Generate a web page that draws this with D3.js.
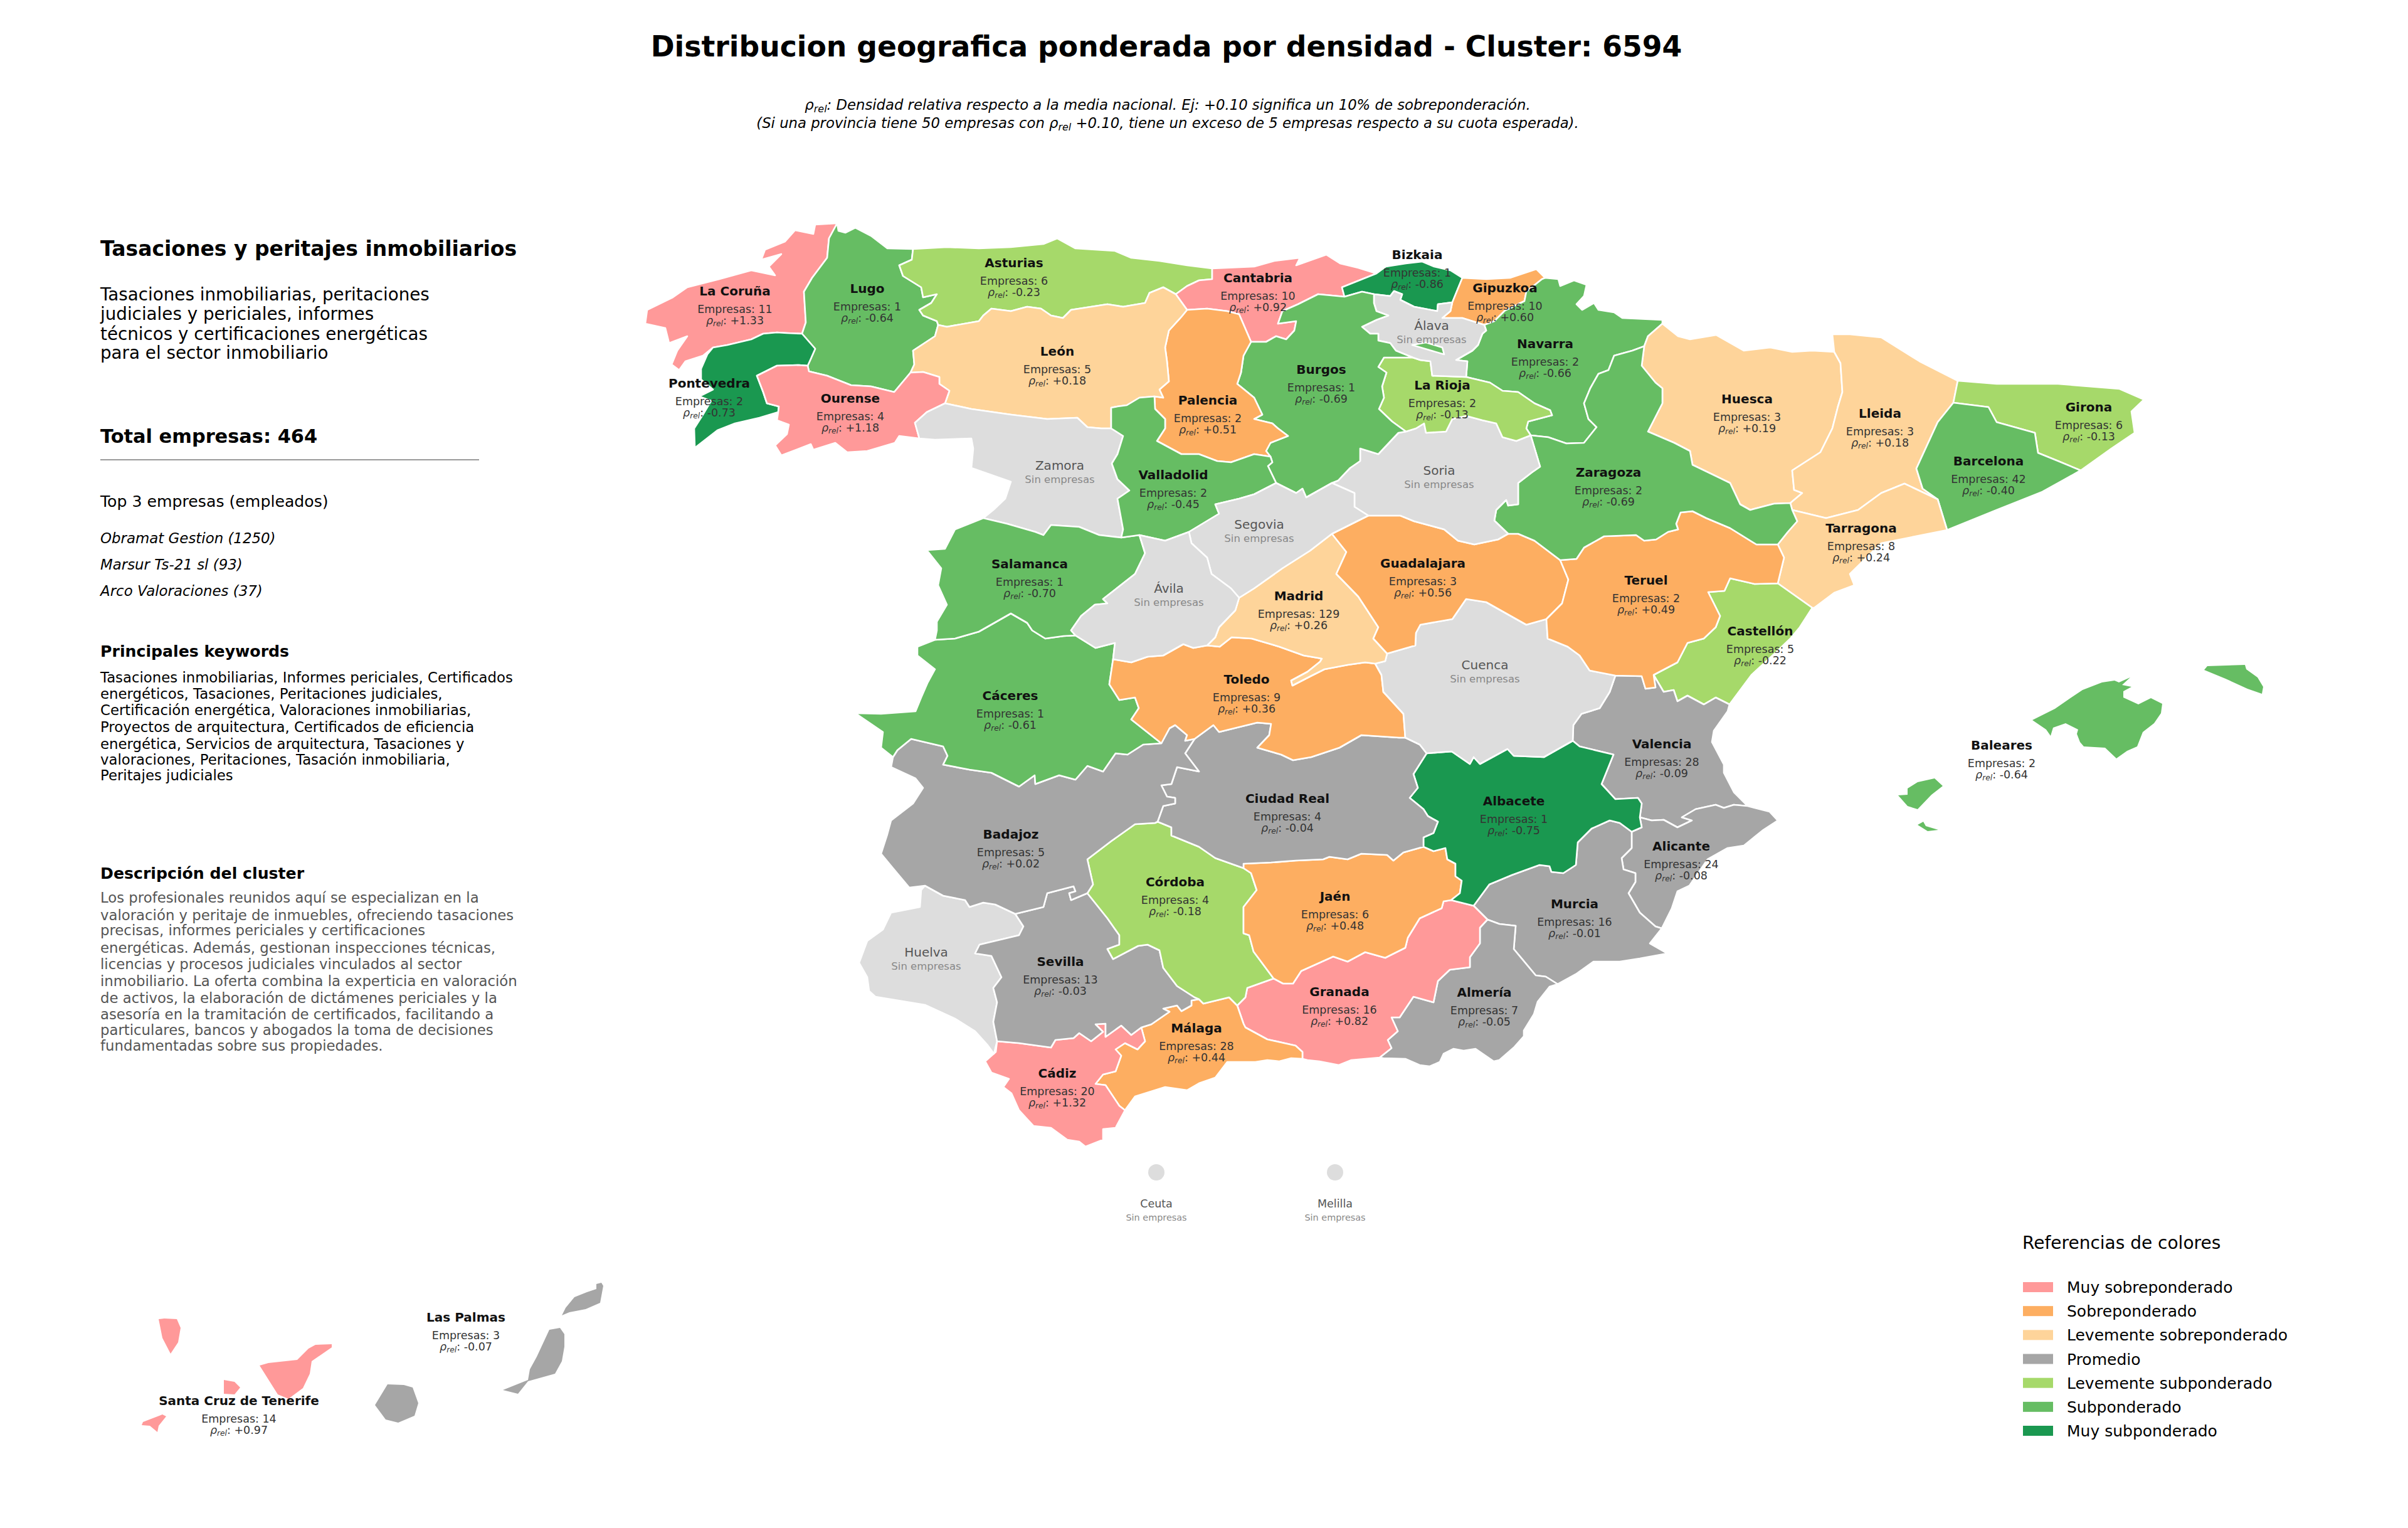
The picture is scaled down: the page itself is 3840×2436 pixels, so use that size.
<!DOCTYPE html>
<meta charset="utf-8">
<body style="margin:0;background:#fff">
<div id="chart"></div>
<script src="https://d3js.org/d3.v7.min.js"></script>
<script>

// values per province, same order in all three arrays (0 / null = sin empresas)
var provinces = ["La Coruña","Lugo","Asturias","Cantabria","Bizkaia","Gipuzkoa","Navarra","Huesca","Lleida","Girona","Barcelona","Tarragona","Castellón","Valencia","Alicante","Murcia","Almería","Granada","Málaga","Cádiz","Huelva","Sevilla","Córdoba","Jaén","Albacete","Ciudad Real","Badajoz","Cáceres","Toledo","Cuenca","Madrid","Guadalajara","Teruel","Zaragoza","Soria","La Rioja","Álava","Burgos","Palencia","León","Pontevedra","Ourense","Zamora","Salamanca","Valladolid","Segovia","Ávila","Baleares","Las Palmas","Santa Cruz de Tenerife","Ceuta","Melilla"];
var empresas = [11,1,6,10,1,10,2,3,3,6,42,8,5,28,24,16,7,16,28,20,0,13,4,6,1,4,5,1,9,0,129,3,2,2,0,2,0,1,2,5,2,4,0,1,2,0,0,2,3,14,0,0];
var rhoRel = [1.33,-0.64,-0.23,0.92,-0.86,0.60,-0.66,0.19,0.18,-0.13,-0.40,0.24,-0.22,-0.09,-0.08,-0.01,-0.05,0.82,0.44,1.32,null,-0.03,-0.18,0.48,-0.75,-0.04,0.02,-0.61,0.36,null,0.26,0.56,0.49,-0.69,null,-0.13,null,-0.69,0.51,0.18,-0.73,1.18,null,-0.70,-0.45,null,null,-0.64,-0.07,0.97,null,null];

var legendLabels = ["Muy sobreponderado","Sobreponderado","Levemente sobreponderado","Promedio","Levemente subponderado","Subponderado","Muy subponderado"];
var legendColors = ["#ff9999","#fdae61","#fed49a","#a6a6a6","#a6d96a","#66bd63","#1a9850"];
var rhoThresholds = [0.7,0.3,0.1,-0.1,-0.3,-0.71];

var topEmpresas = ["Obramat Gestion (1250)","Marsur Ts-21 sl (93)","Arco Valoraciones (37)"];
var descLines = ["Tasaciones inmobiliarias, peritaciones","judiciales y periciales, informes","técnicos y certificaciones energéticas","para el sector inmobiliario"];
var keywordLines = ["Tasaciones inmobiliarias, Informes periciales, Certificados","energéticos, Tasaciones, Peritaciones judiciales,","Certificación energética, Valoraciones inmobiliarias,","Proyectos de arquitectura, Certificados de eficiencia","energética, Servicios de arquitectura, Tasaciones y","valoraciones, Peritaciones, Tasación inmobiliaria,","Peritajes judiciales"];
var clusterLines = ["Los profesionales reunidos aquí se especializan en la","valoración y peritaje de inmuebles, ofreciendo tasaciones","precisas, informes periciales y certificaciones","energéticas. Además, gestionan inspecciones técnicas,","licencias y procesos judiciales vinculados al sector","inmobiliario. La oferta combina la experticia en valoración","de activos, la elaboración de dictámenes periciales y la","asesoría en la tramitación de certificados, facilitando a","particulares, bancos y abogados la toma de decisiones","fundamentadas sobre sus propiedades."];

// province borders, in map grid units. x_ = coast or outer border
var arcs = {
x_co:"1335,356 1300,358 1297,373 1268,367 1252,385 1220,398 1214,414 1246,405 1226,425 1236,439 1198,431 1147,445 1096,458 1073,474 1032,494 1029,516 1061,523 1067,547 1096,536 1080,559 1071,581 1083,590 1093,576 1121,567 1137,554",
co_po:"1137,554 1160,550 1198,541 1217,532 1239,530 1255,531 1279,532",
co_lu:"1279,532 1285,514 1282,465 1295,443 1319,411 1322,380 1335,356",
x_lu:"1335,356 1337,368 1348,371 1364,363 1389,376 1415,396 1456,397",
lu_as:"1456,397 1454,414 1434,423 1440,440 1469,458 1472,474 1494,469 1485,483 1466,494 1472,503 1494,512 1496,518",
lu_le:"1496,518 1491,536 1456,559 1458,581 1452,594",
lu_or:"1452,594 1426,625 1389,616 1357,614 1319,599 1290,592 1288,583",
lu_po:"1279,532 1300,556 1293,572 1288,583",
po_or:"1288,583 1274,582 1239,583 1207,599 1217,625 1223,643 1242,648 1241,657",
x_po:"1241,657 1211,666 1172,675 1144,686 1108,714 1107,683 1121,661 1134,639 1115,632 1137,621 1118,605 1118,588 1128,565 1137,554",
or_le:"1452,594 1472,593 1498,601 1498,612 1514,623 1507,643",
or_za:"1507,643 1478,657 1459,674 1466,699",
x_or:"1466,699 1434,695 1427,706 1383,719 1351,721 1332,706 1297,717 1293,708 1246,726 1236,710 1255,692 1258,677 1239,670 1241,657",
x_as:"1456,397 1510,394 1561,396 1612,394 1664,389 1686,380 1715,396 1778,400 1804,411 1849,416 1893,423 1933,428",
as_ca:"1933,428 1933,445 1912,447 1893,456 1875,469",
as_le:"1496,518 1510,521 1561,512 1568,503 1581,492 1612,496 1638,489 1660,492 1676,503 1695,507 1708,494 1766,485 1791,489 1826,483 1833,467 1855,458 1875,469",
le_ca:"1875,469 1893,494",
le_pa:"1893,494 1884,505 1864,527 1858,554 1861,576 1864,608 1849,621 1855,634 1841,632",
le_vl:"1841,632 1817,634 1797,646 1782,648 1772,650 1772,683",
le_za:"1507,643 1549,652 1612,661 1670,668 1718,666 1734,681 1756,683 1772,683",
x_za:"1466,699 1491,701 1549,699 1552,715 1549,746 1612,768 1603,795 1584,813 1568,826",
za_sa:"1568,826 1606,835 1651,848 1664,853 1676,837 1721,840 1753,853 1788,857",
za_vl:"1772,683 1791,695 1782,724 1773,739 1782,764 1801,782 1782,795 1791,844 1788,857",
x_sa:"1568,826 1523,844 1507,875 1478,877 1501,906 1496,933 1510,964 1494,991 1494,1005 1491,1020",
sa_cc:"1491,1020 1523,1018 1561,1007 1612,978 1638,993 1646,1005 1667,1018 1696,1014 1715,1013",
sa_av:"1715,1013 1708,1005 1724,982 1746,964 1766,962 1759,955 1810,915 1826,882 1817,853",
sa_vl:"1788,857 1817,853",
vl_av:"1817,853 1858,862 1896,848",
vl_sg:"1896,848 1944,819 1938,804 1976,795 2000,788 2035,770",
vl_bu:"2035,770 2022,743 2029,737 2026,728",
vl_pa:"1841,632 1842,652 1858,668 1858,683 1845,703 1884,724 1912,724 1941,735 1963,737 2000,724 2026,728",
ca_pa:"1893,494 1925,492 1957,496 1976,501 1995,545",
pa_bu:"1995,545 1983,567 1979,594 1973,612 1989,625 2000,634 2013,661 2000,668 2029,675 2038,683 2054,695 2026,706 2019,719 2026,728",
x_ca:"1933,428 2000,425 2032,416 2073,411 2067,423 2115,406 2137,420 2166,427 2195,436",
ca_bi:"2195,436 2140,458 2144,473",
ca_bu:"2144,473 2102,469 2070,485 2045,496 2038,516 2067,512 2064,527 2051,541 2035,536 2019,545 1995,545",
x_bi:"2195,436 2210,425 2242,420 2268,417 2287,425 2313,431 2332,443",
bi_gi:"2332,443 2325,460 2316,482",
bi_aa:"2316,482 2293,485 2292,496 2255,489 2233,478 2236,469 2223,464 2217,472 2191,469",
bi_bu:"2191,469 2172,465 2144,473",
aa_bu:"2191,469 2191,483 2195,496 2214,503 2195,510 2172,521 2185,532 2198,532 2198,543 2217,547 2226,559 2253,570",
aa_ri:"2253,570 2265,574 2281,576 2284,599 2338,601",
aa_na:"2338,601 2340,576 2322,574 2348,559 2357,550 2364,532 2370,527 2367,518",
aa_gi:"2367,518 2332,507 2300,507 2313,496 2316,482",
bu_ri:"2253,570 2207,570 2198,585 2211,594 2204,616 2207,634 2199,652 2220,672 2242,688",
bu_so:"2242,688 2230,690 2198,724 2169,715 2169,735 2153,746 2134,766 2124,770",
bu_sg:"2124,770 2083,793 2077,779 2067,786 2035,770",
ri_na:"2338,601 2376,610 2396,623 2421,625 2447,643 2472,654 2475,662 2437,672 2434,683 2441,694",
ri_so:"2441,694 2418,703 2396,697 2386,675 2364,670 2338,663 2316,668 2306,688 2274,690 2271,675 2258,683 2242,688",
x_gi:"2332,443 2370,445 2408,443 2450,429 2464,443",
gi_na:"2464,443 2459,445 2434,465 2431,480 2400,495 2383,512 2367,518",
x_na:"2464,443 2485,445 2488,456 2510,447 2530,454 2526,472 2514,485 2523,494 2542,483 2549,494 2574,498 2587,507 2651,510 2651,516",
na_hu:"2651,516 2628,536 2622,552",
na_zg:"2622,552 2603,559 2574,567 2565,590 2549,596 2536,619 2526,643 2533,668 2546,681 2526,706 2498,707 2469,697 2441,694",
so_zg:"2441,694 2450,724 2456,744 2443,753 2421,770 2421,804 2405,806 2402,797 2386,813 2383,830 2405,851",
so_gu:"2405,851 2389,860 2351,868 2325,862 2303,844 2255,831 2233,822 2182,822",
so_sg:"2182,822 2160,808 2160,786 2124,770",
sg_gu:"2182,822 2124,851",
sg_md:"2124,851 2089,878 2045,906 2000,938 1976,953",
sg_av:"1896,848 1900,866 1925,889 1932,915 1963,938 1976,953",
av_md:"1976,953 1970,973 1944,1000 1938,1016 1925,1029",
av_to:"1925,1029 1903,1033 1887,1027 1855,1045 1830,1047 1804,1056 1775,1051",
av_cc:"1775,1051 1778,1025 1747,1033 1715,1013",
md_to:"1925,1029 1945,1031 1964,1016 1996,1018 2040,1031 2079,1045 2108,1050 2105,1055 2085,1071 2059,1085 2061,1093 2090,1078 2112,1067 2149,1060 2177,1056 2193,1058",
md_cu:"2193,1058 2209,1054 2212,1042",
md_gu:"2124,851 2147,880 2131,915 2166,951 2198,1000 2190,1018 2212,1042",
gu_zg:"2405,851 2421,851 2447,862 2488,893",
gu_te:"2488,893 2501,924 2491,962 2466,987",
gu_cu:"2212,1042 2257,1029 2258,1009 2265,996 2316,987 2338,955 2370,960 2434,996 2466,987",
zg_hu:"2622,552 2618,583 2640,610 2651,619 2651,643 2628,688 2670,706 2695,719 2699,741 2759,770 2775,804 2791,813 2829,803 2855,802",
zg_ll:"2855,802 2858,813",
zg_ta:"2858,813 2866,831 2851,848 2835,868",
zg_te:"2835,868 2801,868 2759,842 2721,826 2699,815 2680,817 2673,835 2676,844 2660,848 2641,860 2622,862 2609,853 2558,855 2526,873 2514,891 2488,893",
x_hu:"2651,516 2676,536 2695,541 2737,534 2781,559 2823,554 2858,561 2890,559 2925,561",
hu_ll:"2925,561 2935,579 2938,625 2931,648 2922,683 2903,721 2858,750 2861,781 2874,786 2855,802",
x_ll:"2925,561 2922,533 2950,533 3000,538 3061,576 3122,607",
ll_ge:"3122,607 3115,642",
ll_bc:"3115,642 3090,673 3073,710 3056,747 3066,779 3090,796",
ll_ta:"3090,796 3037,771 3000,786 2963,813 2912,826 2883,819 2858,813",
x_ge:"3122,607 3184,612 3282,612 3380,620 3419,637 3399,656 3404,690 3367,715 3318,750",
ge_bc:"3115,642 3171,649 3184,673 3245,690 3250,722 3282,735 3318,750",
x_bc:"3318,750 3257,784 3184,813 3105,845",
bc_ta:"3090,796 3105,845",
x_ta:"3105,845 3000,866 2950,915 2957,933 2925,945 2893,969 2890,969",
ta_cs:"2835,930 2890,969",
ta_te:"2835,868 2845,889 2835,930",
x_cs:"2890,969 2870,1000 2855,1018 2832,1040 2793,1076 2758,1123",
cs_va:"2758,1123 2736,1112 2717,1123 2691,1109 2675,1118 2669,1100 2653,1103 2637,1076",
cs_te:"2637,1076 2675,1056 2691,1025 2717,1018 2736,1000 2743,982 2724,944 2750,942 2759,922 2798,931 2835,930",
te_va:"2637,1076 2640,1096 2624,1098 2618,1078 2576,1077",
te_cu:"2466,987 2468,1018 2500,1031 2519,1045 2535,1069 2576,1077",
x_va:"2758,1123 2755,1134 2733,1165 2730,1183 2749,1219 2749,1232 2765,1263 2787,1285",
va_ac:"2615,1303 2634,1308 2653,1307 2675,1319 2698,1308 2682,1303 2704,1290 2736,1283 2749,1288 2765,1283 2787,1285",
va_ab:"2508,1181 2519,1190 2573,1203 2554,1250 2576,1274 2612,1272 2618,1281 2615,1303",
va_cu:"2576,1077 2567,1103 2551,1129 2522,1138 2509,1156 2508,1181",
x_ac:"2787,1285 2822,1294 2835,1308 2812,1323 2781,1348 2755,1352 2723,1370 2694,1412 2675,1421 2666,1448 2650,1480",
ac_mu:"2602,1326 2602,1352 2586,1368 2589,1386 2608,1392 2608,1406 2597,1424 2615,1455 2640,1477 2650,1480",
ac_ab:"2615,1303 2618,1319 2602,1326",
x_mu:"2650,1480 2631,1504 2659,1520 2615,1528 2583,1533 2541,1533 2513,1553 2484,1569",
mu_am:"2372,1466 2391,1473 2417,1476 2414,1513 2449,1555 2465,1557 2484,1569",
mu_gd:"2350,1444 2372,1466",
mu_ab:"2602,1326 2583,1312 2567,1308 2538,1321 2516,1343 2513,1379 2493,1392 2474,1390 2471,1381 2455,1379 2411,1395 2375,1410 2350,1444",
ab_cu:"2508,1181 2462,1207 2414,1205 2404,1194 2360,1218 2350,1207 2344,1218 2315,1198 2275,1201",
ab_cr:"2275,1201 2254,1234 2261,1256 2248,1272 2270,1290 2277,1301 2293,1310 2286,1328 2270,1335 2270,1350",
ab_ja:"2270,1350 2286,1357 2305,1352 2308,1370 2321,1377 2321,1397 2331,1404 2328,1424 2314,1435",
ab_gd:"2314,1435 2350,1444",
to_cu:"2193,1058 2203,1076 2206,1103 2238,1138 2241,1176",
cu_cr:"2241,1176 2264,1187 2275,1201",
to_bj:"1852,1185 1865,1161 1874,1156 1893,1172 1890,1181 1905,1178",
to_cr:"1905,1178 1935,1156 1944,1167 2005,1152 2027,1154 2024,1172 2005,1192 2043,1203 2062,1212 2091,1207 2136,1192 2171,1172 2231,1176 2241,1176",
cc_to:"1852,1185 1804,1147 1816,1129 1810,1112 1785,1116 1769,1091 1775,1051",
x_cc:"1491,1020 1463,1031 1463,1045 1491,1067 1479,1089 1469,1112 1460,1134 1405,1138 1364,1137 1408,1167 1405,1192 1424,1207",
cc_bj:"1424,1207 1431,1196 1453,1178 1504,1190 1511,1205 1504,1219 1546,1227 1581,1232 1625,1254 1650,1236 1651,1250 1689,1236 1715,1243 1734,1221 1759,1230 1779,1201 1798,1203 1823,1187 1852,1185",
bj_cr:"1905,1178 1890,1201 1912,1230 1877,1223 1868,1250 1852,1252 1861,1270 1874,1272 1874,1281 1855,1285 1846,1310",
bj_cb:"1734,1424 1743,1410 1734,1370 1772,1341 1810,1314 1842,1312 1846,1310",
bj_se:"1619,1457 1664,1446 1670,1424 1712,1413 1715,1421 1705,1424 1708,1435 1734,1424",
bj_hv:"1475,1412 1504,1428 1539,1435 1546,1446 1568,1439 1587,1442 1619,1457",
x_bj:"1424,1207 1421,1223 1460,1241 1472,1256 1456,1281 1421,1308 1415,1330 1405,1361 1424,1384 1450,1415 1475,1412",
cr_cb:"1846,1310 1868,1319 1868,1332 1912,1350 1938,1368 1983,1384",
cr_ja:"1983,1384 1983,1377 2027,1375 2066,1372 2110,1370 2120,1366 2149,1370 2171,1361 2212,1363 2222,1372 2238,1359 2270,1350",
cb_ja:"1983,1384 1995,1392 2004,1419 1983,1446 1983,1488 1992,1491 1999,1517 2031,1560",
cb_gd:"2031,1560 1989,1575 1986,1590 1973,1603",
cb_mg:"1973,1603 1960,1590 1919,1600 1912,1593",
cb_se:"1734,1424 1766,1464 1785,1491 1785,1506 1766,1513 1775,1529 1815,1508 1830,1506 1849,1515 1855,1543 1877,1572 1905,1590 1912,1593",
ja_gd:"2031,1560 2046,1568 2062,1568 2075,1548 2126,1525 2149,1533 2177,1518 2209,1527 2241,1511 2245,1495 2264,1464 2299,1448 2302,1437 2314,1435",
gd_am:"2372,1466 2360,1479 2360,1504 2344,1526 2344,1542 2312,1546 2293,1564 2286,1598 2254,1589 2232,1622 2219,1622 2229,1644 2213,1658 2219,1671 2200,1686",
x_gd:"2200,1686 2155,1690 2135,1698 2104,1692 2085,1690 2077,1688",
gd_mg:"1973,1603 1983,1632 1986,1638 2021,1657 2066,1667 2077,1677 2077,1688",
x_am:"2484,1569 2471,1573 2452,1597 2446,1617 2430,1643 2430,1652 2414,1670 2391,1690 2382,1692 2353,1672 2334,1675 2318,1672 2302,1680 2296,1693 2280,1700 2264,1698 2241,1688 2206,1687 2200,1686",
x_mg:"2077,1688 2059,1687 2040,1692 2021,1690 2002,1693 1957,1693 1938,1718 1912,1727 1893,1738 1858,1733 1810,1748 1794,1770",
mg_cd:"1794,1770 1785,1763 1763,1730 1747,1728 1759,1713 1779,1708 1788,1683 1779,1673 1794,1663 1814,1673 1826,1660 1820,1638",
mg_se:"1820,1638 1836,1633 1865,1613 1855,1608 1877,1603 1884,1612 1900,1603 1900,1595 1912,1593",
x_cd:"1590,1660 1588,1677 1571,1692 1581,1710 1609,1720 1600,1733 1613,1743 1625,1770 1648,1795 1676,1798 1702,1817 1721,1820 1731,1828 1759,1817 1759,1800 1779,1798 1794,1770",
cd_se:"1590,1660 1625,1663 1676,1670 1683,1658 1712,1655 1721,1647 1740,1660 1759,1645 1747,1633 1763,1632 1763,1653 1788,1635 1804,1650 1820,1638",
se_hv:"1619,1457 1632,1477 1625,1491 1562,1506 1555,1520 1581,1524 1597,1558 1584,1575 1590,1598 1584,1629 1590,1660",
x_hv:"1475,1412 1469,1419 1467,1446 1421,1455 1408,1482 1383,1500 1370,1535 1383,1558 1386,1580 1396,1589 1475,1602 1523,1624 1555,1644 1574,1665 1585,1680 1590,1660"
};

// which arcs close each province ("-" = walk the arc backwards)
var provinceRings = {
"La Coruña":"x_co co_po co_lu",
"Lugo":"x_lu lu_as lu_le lu_or -lu_po co_lu",
"Pontevedra":"co_po lu_po po_or x_po",
"Ourense":"-lu_or or_le or_za x_or -po_or",
"Asturias":"x_as as_ca -as_le -lu_as",
"León":"as_le le_ca le_pa le_vl -le_za -or_le -lu_le",
"Zamora":"le_za za_vl -za_sa -x_za -or_za",
"Salamanca":"za_sa sa_vl -sa_av -sa_cc -x_sa",
"Valladolid":"-le_vl vl_pa -vl_bu -vl_sg -vl_av -sa_vl -za_vl",
"Palencia":"ca_pa pa_bu -vl_pa -le_pa",
"Cantabria":"x_ca ca_bi ca_bu -ca_pa -le_ca -as_ca",
"Bizkaia":"x_bi bi_gi bi_aa bi_bu -ca_bi",
"Álava":"aa_bu aa_ri aa_na aa_gi bi_aa",
"Burgos":"-bi_bu aa_bu bu_ri bu_so bu_sg vl_bu -pa_bu -ca_bu",
"La Rioja":"aa_ri ri_na ri_so -bu_ri",
"Gipuzkoa":"x_gi gi_na aa_gi -bi_gi",
"Navarra":"x_na na_hu na_zg -ri_na aa_na -gi_na",
"Soria":"so_zg so_gu so_sg -bu_so -ri_so",
"Segovia":"-bu_sg -so_sg sg_gu sg_md -sg_av vl_sg",
"Ávila":"vl_av sg_av av_md av_to av_cc sa_av",
"Madrid":"md_gu -md_cu -md_to -av_md -sg_md",
"Guadalajara":"-so_gu gu_zg gu_te -gu_cu -md_gu -sg_gu",
"Zaragoza":"zg_hu zg_ll zg_ta zg_te -gu_zg -so_zg -na_zg",
"Huesca":"x_hu hu_ll -zg_hu -na_hu",
"Lleida":"x_ll ll_ge ll_bc ll_ta -zg_ll -hu_ll",
"Girona":"x_ge -ge_bc -ll_ge",
"Barcelona":"ge_bc x_bc -bc_ta -ll_bc",
"Tarragona":"-ll_ta bc_ta x_ta -ta_cs -ta_te -zg_ta",
"Castellón":"x_cs cs_va cs_te ta_cs",
"Teruel":"-zg_te ta_te -cs_te te_va -te_cu -gu_te",
"Valencia":"-cs_va x_va -va_ac -va_ab -va_cu -te_va",
"Alicante":"va_ac x_ac -ac_mu -ac_ab",
"Murcia":"ac_mu x_mu -mu_am -mu_gd -mu_ab",
"Albacete":"-ab_cu va_ab ac_ab mu_ab -ab_gd -ab_ja -ab_cr",
"Cuenca":"md_cu gu_cu te_cu va_cu ab_cu -cu_cr -to_cu",
"Toledo":"-av_to md_to to_cu -to_cr -to_bj cc_to",
"Cáceres":"sa_cc -av_cc -cc_to -cc_bj -x_cc",
"Badajoz":"cc_bj to_bj bj_cr -bj_cb -bj_se -bj_hv -x_bj",
"Ciudad Real":"to_cr cu_cr ab_cr -cr_ja -cr_cb -bj_cr",
"Córdoba":"bj_cb cr_cb cb_ja cb_gd cb_mg -cb_se",
"Jaén":"cr_ja ab_ja -ja_gd -cb_ja",
"Granada":"ja_gd ab_gd mu_gd gd_am x_gd -gd_mg -cb_gd",
"Almería":"mu_am x_am -gd_am",
"Málaga":"-cb_mg gd_mg x_mg mg_cd mg_se",
"Cádiz":"cd_se -mg_cd -x_cd",
"Sevilla":"bj_se cb_se -mg_se -cd_se -se_hv",
"Huelva":"bj_hv se_hv -x_hv"
};

// enclaves inside another province
var enclaves = {
"Burgos":["2252,550 2274,546 2300,554 2303,565 2274,563"],
"Valencia":["2522,1049 2548,1033 2557,1049 2589,1058 2576,1069 2535,1069"],
"Huesca":["2622,643 2638,618 2642,622 2632,645"],
"Navarra":["2581,607 2590,599 2595,607","2568,612 2574,605 2576,612"]
};

// islands, drawn without the white border
var islands = {
"Baleares":[
"3241,1148 3277,1130 3303,1112 3321,1100 3352,1088 3372,1085 3379,1088 3397,1080 3384,1092 3399,1095 3386,1102 3386,1112 3410,1123 3430,1113 3448,1122 3446,1137 3435,1153 3417,1167 3408,1190 3392,1197 3375,1209 3357,1192 3323,1190 3317,1183 3312,1170 3314,1163 3294,1153 3274,1160 3270,1173 3263,1163 3248,1158",
"3515,1068 3520,1062 3580,1060 3582,1067 3600,1080 3609,1095 3607,1106 3584,1098 3549,1082 3521,1084",
"3027,1268 3042,1267 3042,1257 3058,1247 3085,1241 3098,1253 3080,1267 3058,1290 3042,1285 3027,1285",
"3058,1315 3067,1310 3071,1317 3091,1323 3074,1325 3058,1327"],
"Las Palmas":[
"618,2207 644,2208 658,2212 667,2237 661,2257 635,2268 615,2263 598,2240 604,2223",
"876,2120 893,2117 900,2127 900,2147 896,2170 885,2190 842,2202 826,2222 802,2216 842,2200 845,2183 856,2163 871,2143",
"896,2097 902,2085 916,2068 936,2060 951,2055 951,2047 959,2045 962,2050 957,2077 934,2087 908,2092 908,2098",
"948,2042 952,2036 954,2039"],
"Santa Cruz de Tenerife":[
"253,2103 262,2102 282,2103 288,2117 284,2140 272,2158 259,2133 249,2113",
"414,2177 428,2173 474,2168 492,2150 503,2144 529,2143 529,2148 497,2170 494,2190 483,2213 460,2230 443,2223 428,2197",
"357,2200 374,2203 383,2212 374,2223 357,2222 349,2210",
"259,2255 265,2258 253,2273 251,2283 239,2273 226,2272 228,2267 245,2263"]
};

// where the name of each province sits on the map grid
var labelAnchors = {"La Coruña":[1172,464],"Lugo":[1383,460],"Asturias":[1617,419],"Cantabria":[2006,443],"Bizkaia":[2260,406],"Gipuzkoa":[2400,459],"Navarra":[2464,548],"Huesca":[2786,636],"Lleida":[2998,659],"Girona":[3331,649],"Barcelona":[3171,735],"Tarragona":[2968,842],"Castellón":[2807,1006],"Valencia":[2650,1186],"Alicante":[2681,1349],"Murcia":[2511,1441],"Almería":[2367,1582],"Granada":[2136,1581],"Málaga":[1908,1639],"Cádiz":[1686,1711],"Huelva":[1477,1517],"Sevilla":[1691,1533],"Córdoba":[1874,1406],"Jaén":[2129,1429],"Albacete":[2414,1277],"Ciudad Real":[2053,1273],"Badajoz":[1612,1330],"Cáceres":[1611,1109],"Toledo":[1988,1083],"Cuenca":[2368,1059],"Madrid":[2071,950],"Guadalajara":[2269,898],"Teruel":[2625,925],"Zaragoza":[2565,753],"Soria":[2295,749],"La Rioja":[2300,614],"Álava":[2283,518],"Burgos":[2107,589],"Palencia":[1926,638],"León":[1686,560],"Pontevedra":[1131,611],"Ourense":[1356,635],"Zamora":[1690,741],"Salamanca":[1642,899],"Valladolid":[1871,757],"Segovia":[2008,835],"Ávila":[1864,937],"Baleares":[3192,1188],"Las Palmas":[743,2100],"Santa Cruz de Tenerife":[381,2233],"Ceuta":[1844,1917],"Melilla":[2129,1917]};
var enclaveDots = {"Ceuta":[1844,1869],"Melilla":[2129,1869]};

var width = 3840, height = 2436;
var font = "'DejaVu Sans', sans-serif";
var noDataColor = "#dddddd";

var svg = d3.select("#chart").append("svg")
	.attr("width", width)
	.attr("height", height)
	.style("display", "block")
	.style("background", "#fff");

var projection = d3.geoIdentity().scale(1).translate([0, 0]);
var path = d3.geoPath(projection);

var colorScale = d3.scaleThreshold()
	.domain(rhoThresholds.slice().reverse())
	.range(legendColors.slice().reverse());

function parsePoints(s) {
	return s.split(" ").map(function(p) { return p.split(",").map(Number); });
}

function ringFromArcs(names) {
	var pts = [];
	names.split(" ").forEach(function(n) {
		var rev = n[0] == "-";
		var a = parsePoints(arcs[rev ? n.slice(1) : n]);
		pts = pts.concat(rev ? a.reverse() : a);
	});
	return pts;
}

var table = provinces.map(function(name, i) {
	return {name: name, empresas: empresas[i], rho: rhoRel[i]};
});

function feature(d, polys) {
	return {type: "Feature", properties: d, geometry: {type: "MultiPolygon", coordinates: polys}};
}

var mainland = table.filter(function(d) { return provinceRings[d.name]; }).map(function(d) {
	var polys = [[ringFromArcs(provinceRings[d.name])]];
	(enclaves[d.name] || []).forEach(function(s) { polys.push([parsePoints(s)]); });
	return feature(d, polys);
});

var islandFeatures = table.filter(function(d) { return islands[d.name]; }).map(function(d) {
	return feature(d, islands[d.name].map(function(s) { return [parsePoints(s)]; }));
});

function fillOf(d) {
	return d.rho === null ? noDataColor : colorScale(d.rho);
}

svg.append("g").selectAll("path")
	.data(mainland)
	.join("path")
	.attr("d", path)
	.attr("fill", function(d) { return fillOf(d.properties); })
	.attr("stroke", "#fff")
	.attr("stroke-width", 2.6)
	.attr("stroke-linejoin", "round");

svg.append("g").selectAll("path")
	.data(islandFeatures)
	.join("path")
	.attr("d", path)
	.attr("fill", function(d) { return fillOf(d.properties); });

svg.append("g").selectAll("circle")
	.data(Object.keys(enclaveDots))
	.join("circle")
	.attr("cx", function(d) { return projection(enclaveDots[d])[0]; })
	.attr("cy", function(d) { return projection(enclaveDots[d])[1]; })
	.attr("r", 13)
	.attr("fill", noDataColor);

// the rho with "rel" as subscript, used on the map and in the note
function rhoLabel(t, size) {
	t.append("tspan").attr("font-style", "italic").text("ρ");
	t.append("tspan").attr("font-style", "italic").attr("font-size", size * 0.7).attr("dy", size * 0.17).text("rel");
}

// province labels
var labels = svg.append("g")
	.attr("font-family", font)
	.attr("text-anchor", "middle")
	.selectAll("g")
	.data(table)
	.join("g")
	.attr("transform", function(d) { return "translate(" + projection(labelAnchors[d.name]) + ")"; });

var small = {"Ceuta": 1, "Melilla": 1};

labels.filter(function(d) { return d.rho === null; }).each(function(d) {
	var g = d3.select(this);
	g.append("text").attr("y", 8).attr("font-size", small[d.name] ? 17.5 : 20).attr("fill", "#555").text(d.name);
	g.append("text").attr("y", 29).attr("font-size", small[d.name] ? 14.4 : 16.5).attr("fill", "#888").text("Sin empresas");
});

labels.filter(function(d) { return d.rho !== null; }).each(function(d) {
	var g = d3.select(this);
	g.append("text").attr("y", 7).attr("font-size", 20).attr("font-weight", "bold").attr("fill", "#111").text(d.name);
	g.append("text").attr("y", 34.5).attr("font-size", 17.5).attr("fill", "#333").text("Empresas: " + d.empresas);
	var t = g.append("text").attr("y", 53).attr("font-size", 17.5).attr("fill", "#333");
	rhoLabel(t, 17.5);
	t.append("tspan").attr("dy", -17.5 * 0.17).text(": " + (d.rho >= 0 ? "+" : "") + d.rho.toFixed(2));
});

// title and note
var head = svg.append("g").attr("font-family", font).attr("text-anchor", "middle");
head.append("text").attr("x", 1860).attr("y", 90)
	.attr("font-size", 45.7).attr("font-weight", "bold").attr("fill", "#000")
	.text("Distribucion geografica ponderada por densidad - Cluster: 6594");

var note1 = head.append("text").attr("x", 1862).attr("y", 175).attr("font-size", 22.75).attr("font-style", "italic");
rhoLabel(note1, 22.75);
note1.append("tspan").attr("dy", -3.9).text(": Densidad relativa respecto a la media nacional. Ej: +0.10 significa un 10% de sobreponderación.");

var note2 = head.append("text").attr("x", 1862).attr("y", 204).attr("font-size", 22.75).attr("font-style", "italic");
note2.append("tspan").text("(Si una provincia tiene 50 empresas con ");
rhoLabel(note2, 22.75);
note2.append("tspan").attr("dy", -3.9).text(" +0.10, tiene un exceso de 5 empresas respecto a su cuota esperada).");

// left panel
var panel = svg.append("g").attr("font-family", font).attr("fill", "#000");
var panelX = 160;

panel.append("text").attr("x", panelX).attr("y", 408).attr("font-size", 33).attr("font-weight", "bold")
	.text("Tasaciones y peritajes inmobiliarios");

function block(lines, ys, size, color, italic) {
	panel.append("g").selectAll("text")
		.data(lines)
		.join("text")
		.attr("x", panelX)
		.attr("y", function(d, i) { return ys[i]; })
		.attr("font-size", size)
		.attr("font-style", italic ? "italic" : "normal")
		.attr("fill", color)
		.text(function(d) { return d; });
}

block(descLines, [479, 510, 542, 572], 27.75, "#000");

panel.append("text").attr("x", panelX).attr("y", 706).attr("font-size", 30.4).attr("font-weight", "bold")
	.text("Total empresas: 464");
panel.append("line").attr("x1", panelX).attr("x2", 764).attr("y1", 733).attr("y2", 733)
	.attr("stroke", "#999").attr("stroke-width", 2);

panel.append("text").attr("x", panelX).attr("y", 808).attr("font-size", 25.2).text("Top 3 empresas (empleados)");
block(topEmpresas, [866, 908, 950], 22.9, "#000", true);

panel.append("text").attr("x", panelX).attr("y", 1047).attr("font-size", 25.2).attr("font-weight", "bold").text("Principales keywords");
block(keywordLines, [1088, 1114, 1140, 1167, 1194, 1219, 1244], 22.8, "#000");

panel.append("text").attr("x", panelX).attr("y", 1401).attr("font-size", 25.2).attr("font-weight", "bold").text("Descripción del cluster");
block(clusterLines, [1439, 1467, 1491, 1519, 1545, 1572, 1599, 1625, 1650, 1675], 22.8, "#555");

// legend
var legend = svg.append("g").attr("font-family", font);
legend.append("text").attr("x", 3225).attr("y", 1991).attr("font-size", 28).attr("fill", "#000").text("Referencias de colores");

var legendY = d3.scalePoint().domain(legendLabels).range([2052, 2281]);

var rows = legend.selectAll("g.row")
	.data(legendLabels)
	.join("g")
	.attr("class", "row")
	.attr("transform", function(d) { return "translate(0," + legendY(d) + ")"; });

rows.append("rect")
	.attr("x", 3226).attr("y", -8).attr("width", 48).attr("height", 16)
	.attr("fill", function(d, i) { return legendColors[i]; });

rows.append("text")
	.attr("x", 3296).attr("y", 9).attr("font-size", 25).attr("fill", "#000")
	.text(function(d) { return d; });

</script>
</body>
